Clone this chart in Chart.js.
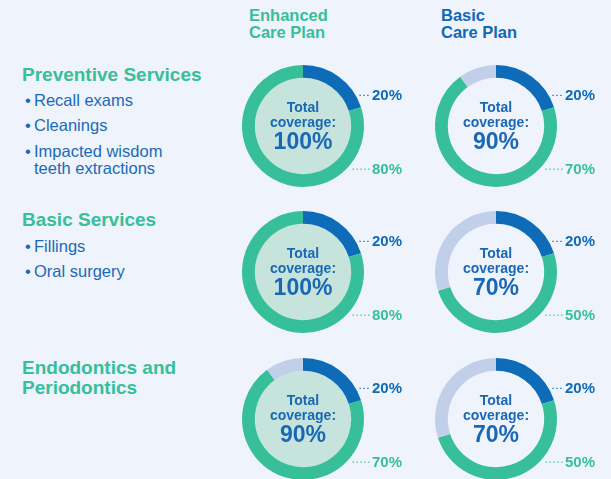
<!DOCTYPE html>
<html>
<head>
<meta charset="utf-8">
<script src="https://cdn.jsdelivr.net/npm/chart.js@4/dist/chart.umd.min.js"></script>
<style>
  html, body { margin: 0; padding: 0; }
  body { width: 611px; height: 479px; overflow: hidden; background: #eff3fc; position: relative;
         font-family: "Liberation Sans", Arial, sans-serif; }
  .abs { position: absolute; white-space: nowrap; }
  .plan { font-weight: bold; font-size: 16.5px; line-height: 17px; }
  .svc { font-weight: bold; font-size: 19px; line-height: 20px; color: #36bf99; }
  .item { font-size: 16.5px; line-height: 17px; color: #1a6ab7; }
  .item .dot { position: absolute; left: 3px; top: 0; }
  .item .txt { position: absolute; left: 12px; top: 0; }
  canvas { position: absolute; }
</style>
</head>
<body>
<script>
// Plans (columns) and services (rows)
const planTitles = [['Enhanced', 'Care Plan'], ['Basic', 'Care Plan']];
const serviceTitles = [['Preventive Services'], ['Basic Services'], ['Endodontics and', 'Periodontics']];
const serviceItems = [
  [['Recall exams'], ['Cleanings'], ['Impacted wisdom', 'teeth extractions']],
  [['Fillings'], ['Oral surgery']],
  []
];
// Coverage shares in percent: [Enhanced, Basic] per service
const baseShare  = [[20, 20], [20, 20], [20, 20]];
const addedShare = [[80, 70], [80, 50], [70, 50]];

// Colours
const BLUE = '#0d6bb8', TEAL = '#36bf99', PALE = '#c1cfe9', HOLE = '#c6e4dc', TEXT = '#1a68b5';
const planColors = [TEAL, '#1268b6'];
const holeFill = [HOLE, null];

// Layout
const colX = [303, 496];
const rowY = [126, 272, 419];
const titleY = [[75], [220], [368, 388]];
const itemY = [[[100], [125], [151, 168]], [[246], [271]], []];

function addDiv(cls, text, left, centerY, lh, color) {
  const d = document.createElement('div');
  d.className = 'abs ' + cls;
  d.textContent = text;
  d.style.left = left + 'px';
  d.style.top = (centerY - lh / 2) + 'px';
  if (color) d.style.color = color;
  document.body.appendChild(d);
  return d;
}

// Column headings
planTitles.forEach((lines, c) => {
  const left = [249, 441][c];
  lines.forEach((ln, i) => addDiv('plan', ln, left, 15 + i * 17, 17, planColors[c]));
});

// Service headings and bullet lists
serviceTitles.forEach((lines, r) => {
  lines.forEach((ln, i) => addDiv('svc', ln, 22, titleY[r][i], 20));
  serviceItems[r].forEach((itemLines, k) => {
    itemLines.forEach((ln, i) => {
      const d = document.createElement('div');
      d.className = 'abs item';
      d.style.left = '22px';
      d.style.top = (itemY[r][k][i] - 8.5) + 'px';
      d.innerHTML = (i === 0 ? '<span class="dot">•</span>' : '') + '<span class="txt"></span>';
      d.querySelector('.txt').textContent = ln;
      document.body.appendChild(d);
    });
  });
});

// Hole fill, centre caption and leader labels for each ring
const ringDecor = {
  id: 'ringDecor',
  beforeDatasetsDraw(chart, args, opts) {
    const arc = chart.getDatasetMeta(0).data[0];
    if (!arc || !opts.hole) return;
    const ctx = chart.ctx;
    ctx.save();
    ctx.beginPath();
    ctx.arc(arc.x, arc.y, arc.innerRadius + 0.5, 0, Math.PI * 2);
    ctx.fillStyle = opts.hole;
    ctx.fill();
    ctx.restore();
  },
  afterDatasetsDraw(chart, args, opts) {
    const meta = chart.getDatasetMeta(0);
    const arc = meta.data[0];
    const ds = chart.data.datasets[0].data;
    const cx = arc.x, cy = arc.y, R = arc.outerRadius;
    const ctx = chart.ctx;
    ctx.save();
    ctx.textAlign = 'center';
    ctx.textBaseline = 'middle';
    ctx.fillStyle = TEXT;
    ctx.font = 'bold 14px "Liberation Sans", Arial, sans-serif';
    ctx.fillText('Total', cx, cy - 18);
    ctx.fillText('coverage:', cx, cy - 3);
    ctx.font = 'bold 23px "Liberation Sans", Arial, sans-serif';
    ctx.fillText((ds[0] + ds[1]) + '%', cx, cy + 17);

    // leader labels for the two covered segments
    const marks = [
      { v: ds[0], dy: -0.51 * R, gap: 4, color: BLUE },
      { v: ds[1], dy: 0.70 * R, gap: 6, color: TEAL }
    ];
    marks.forEach(m => {
      const y = cy + m.dy;
      const x0 = cx + Math.sqrt(R * R - m.dy * m.dy) + m.gap;
      const x1 = cx + R + 6;
      ctx.beginPath();
      ctx.setLineDash([1.3, 2.6]);
      ctx.lineWidth = 1.3;
      ctx.strokeStyle = m.color;
      ctx.moveTo(x0, y + 0.5);
      ctx.lineTo(x1, y + 0.5);
      ctx.stroke();
      ctx.setLineDash([]);
      ctx.textAlign = 'left';
      ctx.fillStyle = m.color;
      ctx.font = 'bold 15px "Liberation Sans", Arial, sans-serif';
      ctx.fillText(m.v + '%', cx + R + 8, y + 1);
    });
    ctx.restore();
  }
};

const W = 240, H = 160;
serviceTitles.forEach((_, r) => {
  planTitles.forEach((__, c) => {
    const cv = document.createElement('canvas');
    cv.width = W; cv.height = H;
    cv.style.left = (colX[c] - W / 2) + 'px';
    cv.style.top = (rowY[r] - H / 2) + 'px';
    document.body.appendChild(cv);
    const b = baseShare[r][c], a = addedShare[r][c];
    new Chart(cv, {
      type: 'doughnut',
      data: {
        labels: ['Plan share', 'Added share', 'Not covered'],
        datasets: [{
          data: [b, a, 100 - b - a],
          backgroundColor: [BLUE, TEAL, PALE],
          borderWidth: 0
        }]
      },
      options: {
        responsive: false,
        animation: false,
        radius: 61,
        cutout: '79%',
        layout: { padding: 0 },
        plugins: {
          legend: { display: false },
          tooltip: { enabled: false },
          ringDecor: { hole: holeFill[c] }
        }
      },
      plugins: [ringDecor]
    });
  });
});
</script>
</body>
</html>
